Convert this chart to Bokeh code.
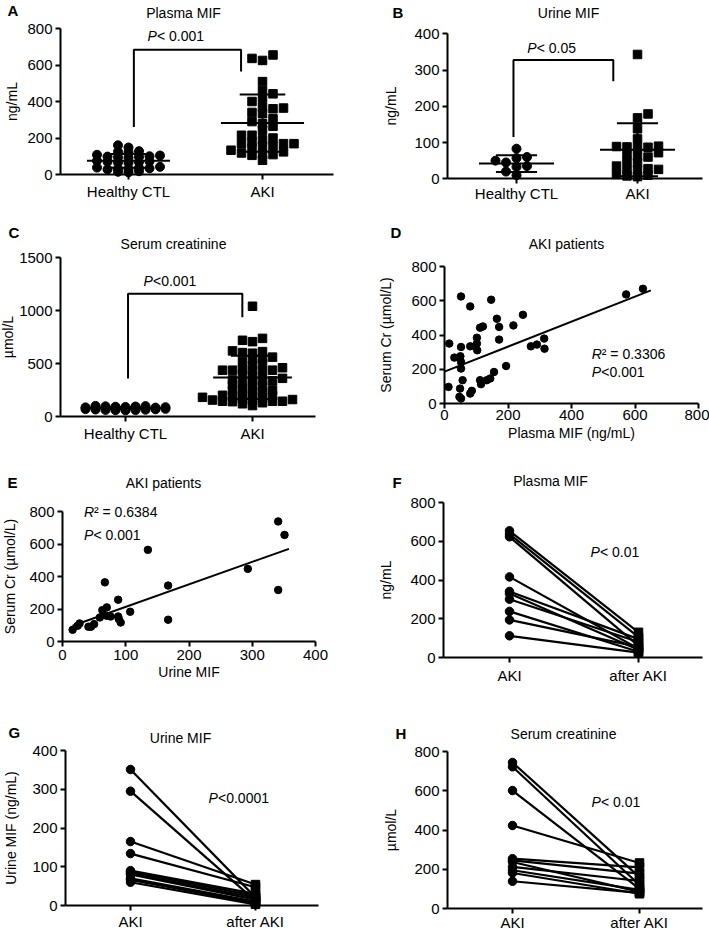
import numpy as np
from bokeh.plotting import figure
from bokeh.layouts import column, row
from bokeh.models import Range1d, FixedTicker, Label
from bokeh.embed import file_html
from bokeh.resources import INLINE

FONT = "Liberation Sans"

# ---------------- data ----------------
dot_categories = ["Healthy CTL", "AKI"]
pair_categories = ["AKI", "after AKI"]

# A  Plasma MIF (ng/mL)
a_ctl = [160, 148, 128, 125, 122, 108, 104, 100, 98, 96, 94, 92, 75, 72, 70, 68, 66, 64,
         42, 38, 36, 34, 32, 30, 28, 18, 15, 12]
a_aki = [655, 636, 625, 509, 460, 442, 418, 400, 369, 364, 360, 333, 305, 278, 264, 242,
         215, 215, 178, 169, 169, 169, 156, 156, 142, 133, 124, 118, 111, 109, 105, 78,
         200, 190, 340, 290]
a_mean = [75, 282]
a_sd = [38, 157]

# B  Urine MIF (ng/mL)
b_ctl = [83, 60, 57, 50, 45, 35, 33, 20, 10]
b_aki = [343, 179, 168, 138, 110, 90, 89, 88, 87, 86, 72, 63, 60, 48, 44, 35, 28, 26,
         25, 24, 12, 10, 8, 6, 70]
b_mean = [42, 80]
b_sd = [23, 73]

# C  Serum creatinine (umol/L)
c_ctl = [100, 98, 96, 94, 92, 90, 88, 86, 84, 82, 80, 79, 78, 76, 74, 72, 70, 68, 66, 64,
         62, 61, 60, 58]
c_aki = [1040, 737, 719, 706, 619, 612, 603, 597, 560, 550, 541, 519, 500, 480, 460, 447,
         437, 437, 437, 437, 420, 400, 380, 360, 345, 337, 337, 337, 320, 300, 290, 280,
         259, 250, 244, 244, 230, 215, 200, 197, 197, 190, 181, 175, 166, 160, 155, 150,
         144, 144, 144, 140, 130, 103, 120]
c_mean = [81, 369]
c_sd = [8, 204]

# D  Plasma MIF vs serum Cr (AKI patients)
d_mif = [12.6, 15, 31, 47, 52, 52, 52, 50, 52, 52, 57, 49, 81, 81, 81, 86, 102, 102, 103,
         112, 115, 112, 121, 133, 144, 147, 156, 165, 172, 172, 194, 217, 247, 272, 291,
         314, 315, 572, 625]
d_cr = [97, 350, 268, 39, 29, 625, 330, 276, 243, 204, 136, 87, 334, 567, 58, 74, 384,
        350, 311, 136, 113, 443, 450, 136, 146, 606, 184, 495, 447, 373, 219, 456, 518,
        334, 344, 379, 320, 637, 670]
d_fit = [186, 0.73]          # intercept, slope
d_fit_x = [0, 650]

# E  Urine MIF vs serum Cr (AKI patients)
e_mif = [16, 24, 27, 41, 45, 50, 59, 63, 67, 70, 70, 76, 88, 88, 89, 92, 107, 135, 167,
         167, 293, 341, 341, 351]
e_cr = [72, 97, 111, 91, 91, 107, 148, 193, 364, 210, 158, 154, 257, 154, 138, 117, 183,
        564, 344, 134, 447, 739, 317, 656]
e_fit = [75, 1.383]
e_fit_x = [16, 358]

# F  Plasma MIF, AKI vs after AKI
f_aki = [654, 637, 623, 416, 341, 330, 301, 238, 194, 112]
f_after = [130, 105, 60, 45, 95, 40, 80, 30, 55, 25]

# G  Urine MIF
g_aki = [351, 295, 165, 134, 90, 87, 83, 80, 70, 66, 60]
g_after = [21, 12, 54, 47, 30, 25, 20, 15, 10, 6, 3]

# H  Serum creatinine
h_aki = [744, 722, 601, 423, 254, 245, 237, 212, 195, 181, 139]
h_after = [160, 120, 100, 232, 210, 178, 85, 140, 95, 75, 80]


# ---------------- helpers ----------------
class Geo:
    """Maps figure pixels (from left / from top) to data, from two anchors per axis."""
    def __init__(self, W, H, px_x, val_x, px_y, val_y):
        (p1, p2), (v1, v2) = px_x, val_x
        self.ppx = (p2 - p1) / (v2 - v1)
        self.x0 = v1 - p1 / self.ppx
        (q1, q2), (w1, w2) = px_y, val_y
        self.ppy = (q1 - q2) / (w2 - w1)
        self.yt = w1 + q1 / self.ppy
        self.W, self.H = W, H

    def x(self, px):
        return self.x0 + px / self.ppx

    def y(self, py):
        return self.yt - py / self.ppy


def make(W, H, px_x, val_x, px_y, val_y, x_axis_px, y_top, yticks, ylabel, ylab_standoff,
         xlab_standoff=3):
    g = Geo(W, H, px_x, val_x, px_y, val_y)
    p = figure(width=W, height=H,
               x_range=Range1d(g.x(0), g.x(W)), y_range=Range1d(g.y(H), g.y(0)),
               output_backend="svg", toolbar_location=None, tools="",
               min_border=0, min_border_left=0, min_border_right=0,
               min_border_top=0, min_border_bottom=0)
    p.title.visible = False
    p.outline_line_color = None
    p.xgrid.visible = False
    p.ygrid.visible = False
    p.background_fill_color = "white"
    p.border_fill_color = "white"
    for ax in (p.xaxis[0], p.yaxis[0]):
        ax.axis_line_width = 2
        ax.axis_line_color = "black"
        ax.major_tick_line_width = 2
        ax.major_tick_line_color = "black"
        ax.major_tick_out = 5
        ax.major_tick_in = 0
        ax.minor_tick_line_color = None
        ax.major_label_text_font = FONT
        ax.major_label_text_font_size = "15px"
        ax.major_label_text_color = "black"
        ax.axis_label_text_font = FONT
        ax.axis_label_text_font_size = "14px"
        ax.axis_label_text_font_style = "normal"
        ax.axis_label_text_color = "black"
        ax.major_label_standoff = 3
        ax.axis_label_standoff = 2
    xa, ya = p.xaxis[0], p.yaxis[0]
    xl, xr = g.x(x_axis_px[0]), g.x(x_axis_px[1])
    xa.fixed_location = 0
    xa.bounds = (xl, xr)
    xa.major_label_standoff = xlab_standoff
    ya.fixed_location = xl
    ya.bounds = (0, y_top)
    ya.ticker = FixedTicker(ticks=yticks)
    ya.axis_label = ylabel
    ya.axis_label_standoff = ylab_standoff
    return p, g


def add_text(p, x, y, text, size="14px", style="normal", align="left", xoff=0):
    p.add_layout(Label(x=x, y=y, text=text, x_offset=xoff,
                       text_font=FONT, text_font_size=size, text_font_style=style,
                       text_align=align, text_baseline="middle", text_color="black"))


def header(p, g, letter, lx, ly, title, tx, ty):
    add_text(p, g.x(lx), g.y(ly), letter, size="15px", style="bold")
    add_text(p, g.x(tx), g.y(ty), title, size="14px", align="center")


def ptext(p, x, y, rest, gap=9.5):
    add_text(p, x, y, "P", style="italic")
    add_text(p, x, y, rest, xoff=gap)


def swarm(vals, center, ppx, ppy, col_px, min_dy_px):
    vals = np.asarray(vals, float)
    order = np.argsort(vals)
    cols = {}
    xs = np.zeros(len(vals))
    for i in order:
        y = vals[i] * ppy
        cands = [0]
        for j in range(1, 60):
            pair = [-j, j]
            pair.sort(key=lambda k: len(cols.get(k, [])))
            cands += pair
        for k in cands:
            if all(abs(y - yy) >= min_dy_px for yy in cols.get(k, [])):
                cols.setdefault(k, []).append(y)
                xs[i] = center + k * col_px / ppx
                break
    return xs


def dotpanel(p, g, groups, markers, sizes, means, sds, col_px, min_dy):
    for ci, (vals, mk, sz, md) in enumerate(zip(groups, markers, sizes, min_dy)):
        c = ci + 1
        xs = swarm(vals, c, g.ppx, g.ppy, col_px, md)
        p.scatter(xs, vals, marker=mk, size=sz, color="black")
    for ci, (m, s) in enumerate(zip(means, sds)):
        c = ci + 1
        hm, hc = 0.31, 0.17
        p.segment(x0=[c - hm, c, c - hc, c - hc], y0=[m, m - s, m + s, m - s],
                  x1=[c + hm, c, c + hc, c + hc], y1=[m, m + s, m + s, m - s],
                  line_width=2, color="black")
    p.xaxis[0].ticker = FixedTicker(ticks=[1, 2])
    p.xaxis[0].major_label_overrides = {1: dot_categories[0], 2: dot_categories[1]}


def bracket(p, xl, xr_, yl, ytop, yr_):
    p.line([xl, xl, xr_, xr_], [yl, ytop, ytop, yr_], line_width=2, color="black")


def pairpanel(p, before, after):
    n = len(before)
    p.segment(x0=[1] * n, y0=before, x1=[2] * n, y1=after, line_width=2.2, color="black")
    p.scatter([1] * n, before, marker="circle", size=8.5, color="black")
    p.scatter([2] * n, after, marker="square", size=8.5, color="black")
    p.xaxis[0].ticker = FixedTicker(ticks=[1, 2])
    p.xaxis[0].major_label_overrides = {1: pair_categories[0], 2: pair_categories[1]}


LW, RW = 350, 359
H1, H2, H3, H4 = 206, 249, 245, 229

# ---- A ----
pA, gA = make(LW, H1, (128, 262), (1, 2), (174, 28), (0, 800), (60, 333), 800,
              [0, 200, 400, 600, 800], "ng/mL", 4)
dotpanel(pA, gA, [a_ctl, a_aki], ["circle", "square"], [9, 8.5], a_mean, a_sd, 10.5, [3, 6])
bracket(pA, 1.04, 1.84, 260, 684, 564)
ptext(pA, gA.x(147), gA.y(35), " < 0.001")
header(pA, gA, "A", 7, 10, "Plasma MIF", 183, 12)

# ---- B ----
pB, gB = make(RW, H1, (166, 287), (1, 2), (178.3, 33.3), (0, 400), (97, 352), 400,
              [0, 100, 200, 300, 400], "ng/mL", 12, xlab_standoff=1)
dotpanel(pB, gB, [b_ctl, b_aki], ["circle", "square"], [9, 8.5], b_mean, b_sd, 10.5, [7, 6])
bracket(pB, 0.975, 1.80, 115, 328, 269)
ptext(pB, gB.x(176.7), gB.y(47.7), " < 0.05")
header(pB, gB, "B", 42, 12, "Urine MIF", 218, 12)

# ---- C ----
pC, gC = make(LW, H2, (125, 252), (1, 2), (210, 51), (0, 1500), (60, 315), 1500,
              [0, 500, 1000, 1500], "µmol/L", 0)
dotpanel(pC, gC, [c_ctl, c_aki], ["circle", "square"], [9, 8.5], c_mean, c_sd, 10.0, [1.5, 4.5])
bracket(pC, 1.02, 1.92, 359, 1159, 937)
ptext(pC, gC.x(143), gC.y(74.7), "<0.001")
header(pC, gC, "C", 8, 26, "Serum creatinine", 173, 37)

# ---- D ----
pD, gD = make(RW, H2, (94, 348), (0, 800), (197, 60), (0, 800), (94, 348), 800,
              [0, 200, 400, 600, 800], "Serum Cr (µmol/L)", 14, xlab_standoff=1)
pD.xaxis[0].ticker = FixedTicker(ticks=[0, 200, 400, 600, 800])
pD.xaxis[0].axis_label = "Plasma MIF (ng/mL)"
pD.scatter(d_mif, d_cr, marker="circle", size=7.5, color="black")
pD.line(d_fit_x, [d_fit[0] + d_fit[1] * x for x in d_fit_x], line_width=2, color="black")
add_text(pD, 464, 291, "R", style="italic")
add_text(pD, 464, 291, "² = 0.3306", xoff=10)
ptext(pD, 464, 184, " <0.001")
header(pD, gD, "D", 40, 26, "AKI patients", 216, 37)

# ---- E ----
pE, gE = make(LW, H3, (62, 315), (0, 400), (186, 56), (0, 800), (62, 315), 800,
              [0, 200, 400, 600, 800], "Serum Cr (µmol/L)", 8)
pE.xaxis[0].ticker = FixedTicker(ticks=[0, 100, 200, 300, 400])
pE.xaxis[0].axis_label = "Urine MIF"
pE.xaxis[0].axis_label_standoff = 1
pE.scatter(e_mif, e_cr, marker="circle", size=7.5, color="black")
pE.line(e_fit_x, [e_fit[0] + e_fit[1] * x for x in e_fit_x], line_width=2, color="black")
add_text(pE, 34, 800, "R", style="italic")
add_text(pE, 34, 800, "² = 0.6384", xoff=10)
ptext(pE, 34, 656, "< 0.001")
header(pE, gE, "E", 7, 26.7, "AKI patients", 163, 27)

# ---- F ----
pF, gF = make(RW, H3, (159, 288), (1, 2), (202, 47), (0, 800), (93, 352), 800,
              [0, 200, 400, 600, 800], "ng/mL", 13, xlab_standoff=4)
pairpanel(pF, f_aki, f_after)
ptext(pF, gF.x(240), 542, " < 0.01")
header(pF, gF, "F", 42, 26.7, "Plasma MIF", 200, 25)

# ---- G ----
pG, gG = make(LW, H4, (130, 255), (1, 2), (205, 50), (0, 400), (65, 318), 400,
              [0, 100, 200, 300, 400], "Urine MIF (ng/mL)", 10, xlab_standoff=2)
pairpanel(pG, g_aki, g_after)
ptext(pG, gG.x(208), 277, "<0.0001")
header(pG, gG, "G", 8, 31.7, "Urine MIF", 180, 37)

# ---- H ----
pH, gH = make(RW, H4, (162, 289), (1, 2), (208, 51), (0, 800), (97, 352), 800,
              [0, 200, 400, 600, 800], "µmol/L", 12, xlab_standoff=0)
pairpanel(pH, h_aki, h_after)
ptext(pH, gH.x(241), 541, " < 0.01")
header(pH, gH, "H", 45, 33, "Serum creatinine", 213, 33)

layout = column(row(pA, pB), row(pC, pD), row(pE, pF), row(pG, pH))

open("out.html", "w").write(file_html(layout, INLINE))
